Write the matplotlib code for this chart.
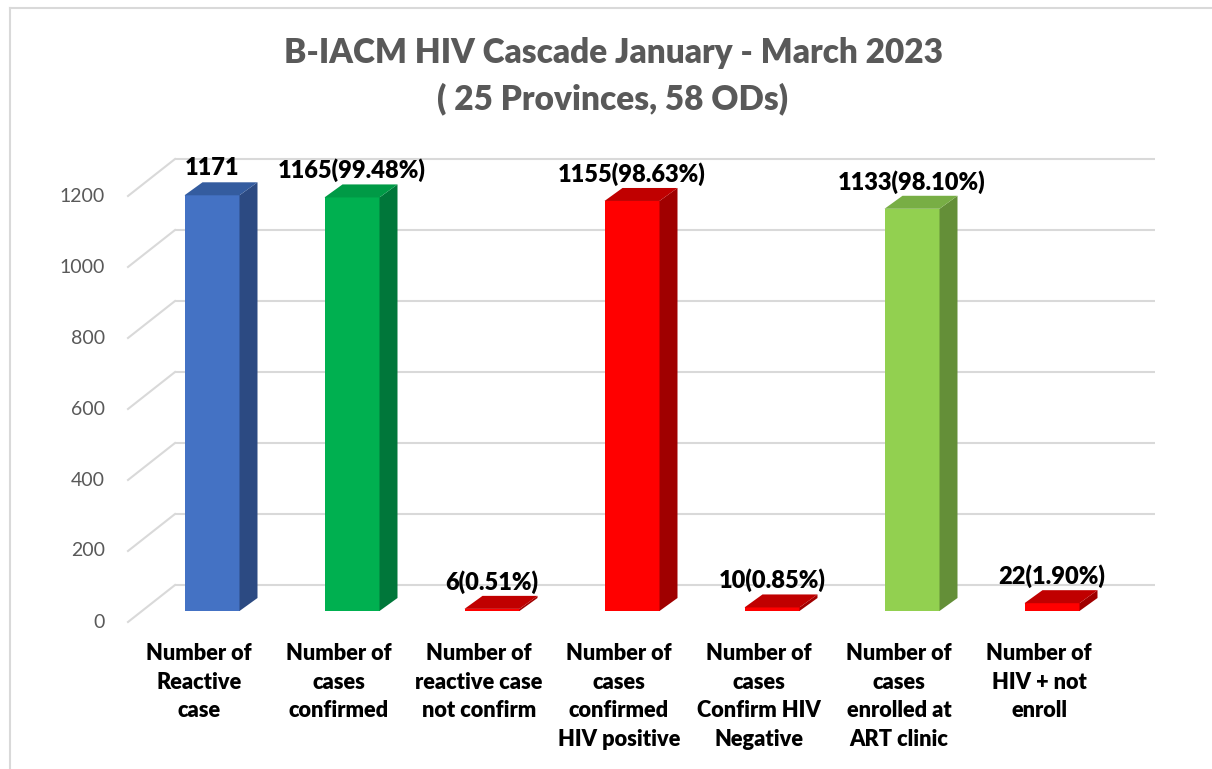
import matplotlib
matplotlib.use("Agg")
import matplotlib.pyplot as plt
from matplotlib.patches import Polygon, Rectangle

# ---- data ----
categories = [
    "Number of\nReactive\ncase",
    "Number of\ncases\nconfirmed",
    "Number of\nreactive case\nnot confirm",
    "Number of\ncases\nconfirmed\nHIV positive",
    "Number of\ncases\nConfirm HIV\nNegative",
    "Number of\ncases\nenrolled at\nART clinic",
    "Number of\nHIV + not\nenroll",
]
values = [1171, 1165, 6, 1155, 10, 1133, 22]
value_labels = ["1171", "1165(99.48%)", "6(0.51%)", "1155(98.63%)",
                "10(0.85%)", "1133(98.10%)", "22(1.90%)"]
yticks = [0, 200, 400, 600, 800, 1000, 1200]
title = "B-IACM HIV Cascade January - March 2023\n( 25 Provinces, 58 ODs)"

# face colours per bar: (front, side, top)
colors = [
    ("#4472C4", "#2C4A82", "#345C9F"),
    ("#00B050", "#00773A", "#009A46"),
    ("#FF0000", "#A00000", "#C00000"),
    ("#FF0000", "#A00000", "#C00000"),
    ("#FF0000", "#A00000", "#C00000"),
    ("#92D050", "#648F38", "#78AE45"),
    ("#FF0000", "#A00000", "#C00000"),
]

FONT = "Lato"
W, H = 1212, 769
fig = plt.figure(figsize=(W / 100, H / 100), dpi=100)
fig.patch.set_facecolor("white")

# border (top and left visible)
fig.add_artist(plt.Line2D([10 / W, 10 / W], [0, 1 - 8 / H], color="#D9D9D9", lw=1.5,
                          transform=fig.transFigure))
fig.add_artist(plt.Line2D([10 / W, 1], [1 - 8 / H, 1 - 8 / H], color="#D9D9D9", lw=1.5,
                          transform=fig.transFigure))

# axes geometry: back wall x 175..1155 px, value 0 at y=585 px, 1200 at y=159 px
x_left, x_right = 175, 1155
ppu = (585 - 159) / 1200.0            # pixels per value unit
ymin, ymax = -140, 1300
y_bottom_px = 585 + (-ymin) * ppu
y_top_px = 585 - ymax * ppu
ax = fig.add_axes([x_left / W, (H - y_bottom_px) / H,
                   (x_right - x_left) / W, (y_bottom_px - y_top_px) / H])
ax.set_xlim(-0.5, len(values) - 0.5)
ax.set_ylim(ymin, ymax)
ax.axis("off")

ppx = (x_right - x_left) / len(values)   # pixels per category unit


def dx(p):
    return p / ppx


def dy(p):
    return p / ppu


# gridlines on back wall + side wall diagonals
for t in yticks:
    ax.plot([-0.5, len(values) - 0.5], [t, t], color="#D9D9D9", lw=1.5, zorder=1,
            solid_capstyle="butt", clip_on=False)
    ax.plot([-0.5, -0.5 - dx(47)], [t, t - dy(37)], color="#D9D9D9", lw=1.5, zorder=1,
            clip_on=False)
    ax.text(-0.5 - dx(70), t - dy(37), str(t), ha="right", va="center",
            fontsize=14, color="#595959", family=FONT)

# 3D bars
bw = dx(55)
fx, fy = dx(-33), dy(-26)   # front face offset
bx, by = dx(-15), dy(-13)   # back face offset
for i, (v, (cf, cs, ct)) in enumerate(zip(values, colors)):
    x0 = i - bw / 2 + fx
    x1 = x0 + bw
    # front face
    ax.add_patch(Rectangle((x0, fy), bw, v, facecolor=cf, edgecolor="none", zorder=3))
    # side face
    ax.add_patch(Polygon([(x1, fy), (x1, fy + v), (x1 + bx - fx, by + v), (x1 + bx - fx, by)],
                         closed=True, facecolor=cs, edgecolor="none", zorder=3))
    # top face
    ax.add_patch(Polygon([(x0, fy + v), (x1, fy + v), (x1 + bx - fx, by + v), (x0 + bx - fx, by + v)],
                         closed=True, facecolor=ct, edgecolor="none", zorder=3))
    # value label
    ax.text(i + fx, v + dy(1), value_labels[i], ha="center", va="center",
            fontsize=17, fontweight="heavy", color="black", family=FONT, zorder=5)
    # category label
    ax.text(i + dx(-46), dy(-36) + dy(-22), categories[i], ha="center", va="top",
            fontsize=15.7, fontweight="heavy", color="black", family=FONT,
            linespacing=1.45)

fig.text(613 / W, 1 - 37 / H, title, ha="center", va="top", fontsize=24,
         fontweight="heavy", color="#595959", family=FONT, linespacing=1.5)

fig.savefig("out.png", dpi=100, facecolor="white")
